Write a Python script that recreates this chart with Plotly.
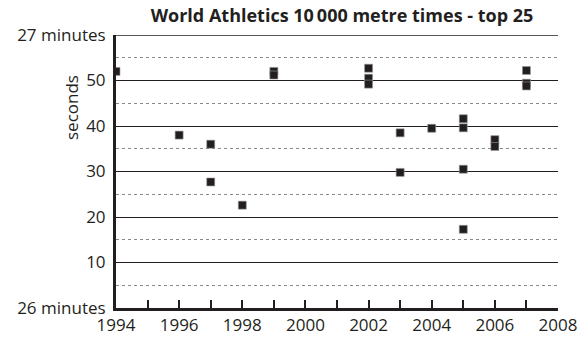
import plotly.graph_objects as go

years = [1994, 1996, 1997, 1997, 1998, 1999, 1999, 2002, 2002, 2002,
         2003, 2003, 2004, 2005, 2005, 2005, 2005, 2006, 2006,
         2007, 2007, 2007]
seconds = [52.0, 38.0, 36.0, 27.7, 22.6, 52.0, 51.2, 52.7, 50.5, 49.2,
           38.5, 29.8, 39.5, 41.6, 39.6, 30.5, 17.3, 37.0, 35.5,
           52.2, 49.4, 48.8]

y_tickvals = [0, 10, 20, 30, 40, 50, 60]
y_ticktext = ["26 minutes", "10", "20", "30", "40", "50", "27 minutes"]
x_tickvals = [1994, 1996, 1998, 2000, 2002, 2004, 2006, 2008]
x_ticktext = [str(v) for v in x_tickvals]

FONT = "Open Sans"
ink = "#231f20"

L, R, T, B = 116, 22, 35, 32
W, H = 580, 340
pw, ph = W - L - R, H - T - B

fig = go.Figure()
fig.add_trace(go.Scatter(
    x=years, y=seconds, mode="markers",
    marker=dict(symbol="square", size=8, color=ink,
                line=dict(color="#9a9a9a", width=0.6)),
    hoverinfo="x+y", showlegend=False,
))

fig.update_layout(
    width=W, height=H,
    margin=dict(l=L, r=R, t=T, b=B, autoexpand=False),
    paper_bgcolor="white", plot_bgcolor="white",
    font=dict(family=FONT, size=17, color=ink),
    title=dict(text="<b>World Athletics 10\u2009000 metre times - top 25</b>",
               x=342 / W, xanchor="center", y=1 - 16 / H, yanchor="middle",
               font=dict(family=FONT, size=18, color=ink)),
    xaxis=dict(range=[1994, 2008], tickvals=x_tickvals, ticktext=x_ticktext,
               automargin=False,
               showgrid=False, zeroline=False,
               showline=True, linecolor=ink, linewidth=3,
               ticks="inside", ticklen=8, tickwidth=2, tickcolor=ink,
               minor=dict(dtick=1, tick0=1994, ticks="inside", ticklen=8,
                          tickwidth=2, tickcolor=ink, showgrid=False),
               tickfont=dict(size=17), ticklabelstandoff=0),
    yaxis=dict(range=[0, 60], tickvals=y_tickvals, ticktext=y_ticktext,
               automargin=False,
               showgrid=True, gridcolor=ink, gridwidth=1.3,
               zeroline=False, showline=True, linecolor=ink, linewidth=3,
               ticks="", tickfont=dict(size=17), ticklabelstandoff=4,
               minor=dict(tickvals=[5, 15, 25, 35, 45, 55], showgrid=True,
                          gridcolor="#8a8a8a", gridwidth=1,
                          griddash="3px,3px", ticks="")),
    annotations=[dict(text="seconds", textangle=-90,
                      x=(71 - L) / pw, y=(H - B - 108) / ph,
                      xref="paper", yref="paper", showarrow=False,
                      xanchor="center", yanchor="middle",
                      font=dict(family=FONT, size=17, color=ink))],
)
# solid top gridline at 27 minutes (range top edge)
fig.add_hline(y=y_tickvals[-1], line=dict(color=ink, width=1.5), layer="below")

fig.write_html(
    "out.html",
    config={"displayModeBar": False},
    post_script="document.body.style.margin='0';document.body.style.padding='0';"
                "document.body.style.overflow='hidden';",
)
